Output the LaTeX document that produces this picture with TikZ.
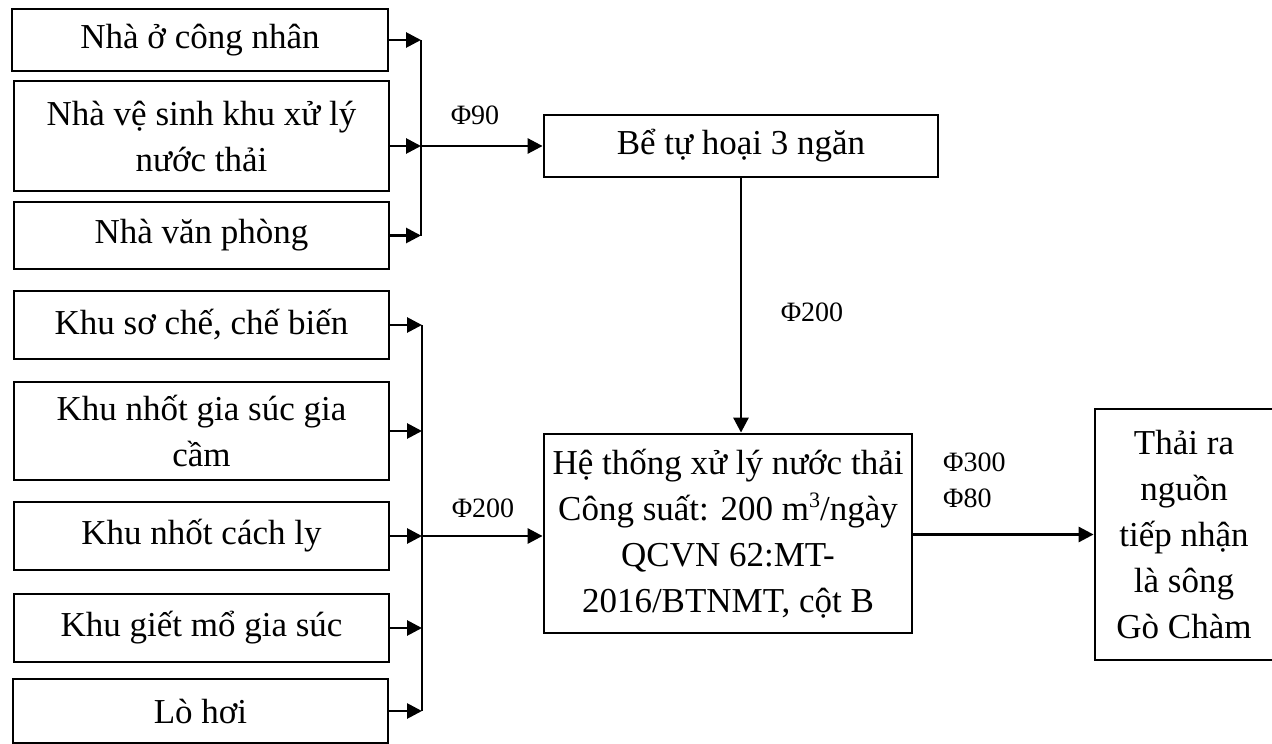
\documentclass[tikz,border=0pt]{standalone}
\usepackage{fontspec}
\setmainfont{Liberation Serif}
\usetikzlibrary{arrows.meta}

\begin{document}
\begin{tikzpicture}[x=1pt, y=-1pt,
    boite/.style={draw, line width=2.8pt, align=center, inner sep=0pt,
        font=\fontsize{35}{46}\selectfont},
    fleche/.style={line width=2.8pt, -{Triangle[length=15pt,width=15pt]}},
    trait/.style={line width=2.8pt},
    etiquette/.style={font=\fontsize{28}{36}\selectfont, inner sep=0pt}]
    \useasboundingbox (0,0) rectangle (1272,744);

    % Les sources du haut
    \node[boite, minimum width=376, minimum height=62] (b1) at (200,40) {Nhà ở công nhân};
    \node[boite, minimum width=375, minimum height=110] (b2) at (201.5,136) {Nhà vệ sinh khu xử lý\\nước thải};
    \node[boite, minimum width=375, minimum height=67] (b3) at (201.5,235.5) {Nhà văn phòng};

    % Les sources du bas
    \node[boite, minimum width=375, minimum height=68] (b4) at (201.5,325) {Khu sơ chế, chế biến};
    \node[boite, minimum width=375, minimum height=98] (b5) at (201.5,431) {Khu nhốt gia súc gia\\cầm};
    \node[boite, minimum width=375, minimum height=68] (b6) at (201.5,536) {Khu nhốt cách ly};
    \node[boite, minimum width=375, minimum height=68] (b7) at (201.5,628) {Khu giết mổ gia súc};
    \node[boite, minimum width=375, minimum height=64] (b8) at (200.5,711) {Lò hơi};

    % Bể tự hoại, hệ thống xử lý, nguồn tiếp nhận
    \node[boite, minimum width=394, minimum height=62] (be) at (741,146) {Bể tự hoại 3 ngăn};
    \node[boite, minimum width=368, minimum height=199] (ht) at (728,533.5) {Hệ thống xử lý nước thải\\Công suất: 200 m\raisebox{13pt}{\fontsize{22}{22}\selectfont 3}/ngày\\QCVN 62:MT-\\2016/BTNMT, cột B};
    \node[boite, minimum width=178, minimum height=251] (th) at (1184,534.5) {Thải ra\\nguồn\\tiếp nhận\\là sông\\Gò Chàm};

    % Points de jonction
    \coordinate (j1) at (421,146);
    \coordinate (j2) at (422,536);

    % Collecteur du haut
    \draw[trait] (b1.east -| j1) -- (b3.east -| j1);
    \draw[fleche] (b1.east) -- (b1.east -| j1);
    \draw[fleche] (b2.east |- j1) -- (j1);
    \draw[fleche] (b3.east) -- (b3.east -| j1);
    \draw[fleche] (j1) -- (be.west);
    \node[etiquette] (d90) at (475,115) {Φ90};

    % Collecteur du bas
    \draw[trait] (b4.east -| j2) -- (b8.east -| j2);
    \foreach \b in {b4,b5,b6,b7,b8}
        \draw[fleche] (\b.east) -- (\b.east -| j2);
    \draw[fleche] (j2) -- (j2 -| ht.west);
    \node[etiquette] (d200a) at (483,508) {Φ200};

    % Bể tự hoại vers le système
    \draw[fleche] (be.south) -- (be.south |- ht.north);
    \node[etiquette] (d200b) at (812,312) {Φ200};

    % Rejet
    \draw[fleche] (ht.east |- th.west) -- (th.west);
    \node[etiquette, anchor=west] (d300) at (943,462) {Φ300};
    \node[etiquette, anchor=west] (d80) at (943,498) {Φ80};
\end{tikzpicture}
\end{document}
